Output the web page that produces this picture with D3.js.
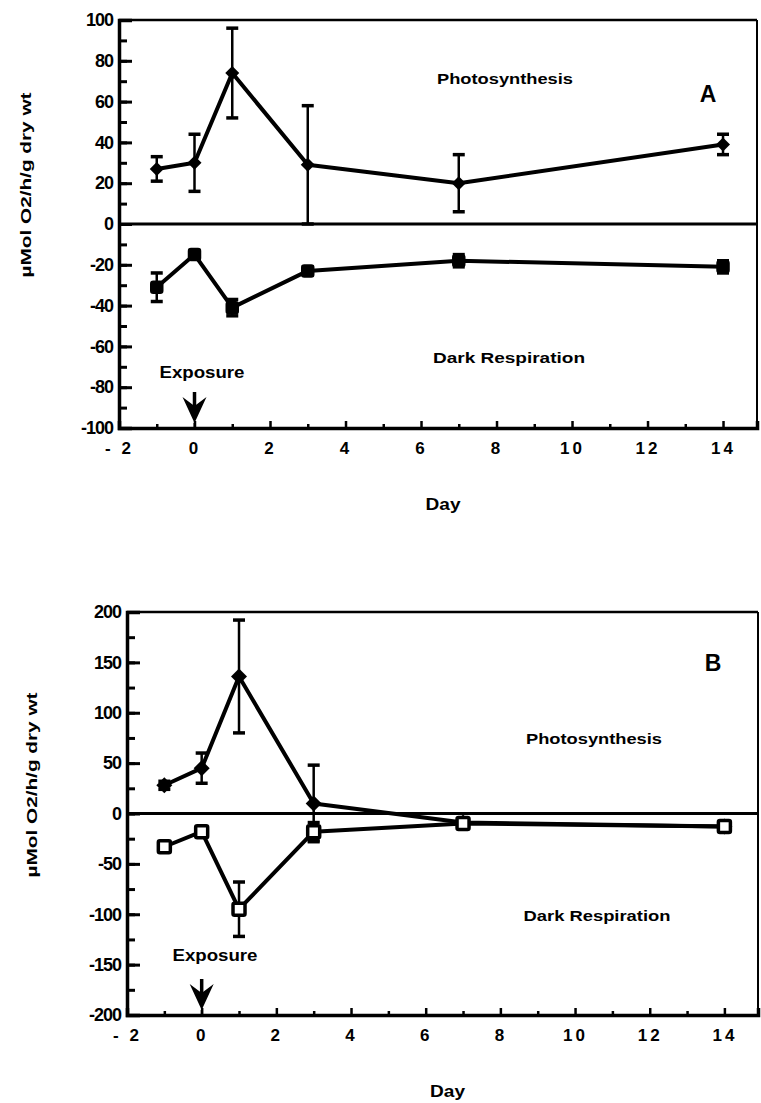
<!DOCTYPE html>
<html>
<head>
<meta charset="utf-8">
<script src="https://cdn.jsdelivr.net/npm/d3@7"></script>
<style>
  body { margin: 0; background: #fff; }
  svg text { font-family: "Liberation Sans", Arial, sans-serif; font-weight: bold; fill: #000; }
</style>
</head>
<body>
<div id="chart"></div>
<script>
// sampling days
const days = [-1, 0, 1, 3, 7, 14];

// panel A
const photoA = [27, 30, 74, 29, 20, 39];
const photoAErr = [6, 14, 22, 29, 14, 5];
const respA = [-31, -15, -41, -23, -18, -21];
const respAErr = [7, 2, 4, 2, 3, 3];
const yTicksA = [-100, -80, -60, -40, -20, 0, 20, 40, 60, 80, 100];

// panel B
const photoB = [28, 45, 136, 10, -9, -13];
const photoBErr = [4, 15, 56, 38, 2, 2];
const respB = [-33, -18, -95, -18, -10, -13];
const respBErr = [3, 3, 27, 9, 3, 2];
const yTicksB = [-200, -150, -100, -50, 0, 50, 100, 150, 200];

const xTicks = [-2, 0, 2, 4, 6, 8, 10, 12, 14];
const yLabel = "\u00b5Mol O2/h/g dry wt";

const width = 761, height = 1103;
const svg = d3.select("#chart").append("svg")
  .attr("width", width).attr("height", height);

function label(g, x, y, txt, size, len) {
  var t = g.append("text").attr("x", x).attr("y", y)
    .attr("text-anchor", "middle").attr("font-size", size).text(txt);
  if (len) t.attr("textLength", len).attr("lengthAdjust", "spacingAndGlyphs");
  return t;
}

function drawPanel(opts) {
  var x = d3.scaleLinear().domain([-2, 14.9]).range([opts.left, opts.right]);
  var y = d3.scaleLinear().domain(opts.yDomain).range([opts.bottom, opts.top]);
  var g = svg.append("g");

  // frame: top + right thinner
  g.append("line").attr("x1", opts.left).attr("x2", opts.right)
    .attr("y1", opts.top).attr("y2", opts.top)
    .attr("stroke", "#000").attr("stroke-width", 2.5);
  g.append("line").attr("x1", opts.right).attr("x2", opts.right)
    .attr("y1", opts.top).attr("y2", opts.bottom)
    .attr("stroke", "#000").attr("stroke-width", 2);

  // zero line
  g.append("line").attr("x1", opts.left).attr("x2", opts.right)
    .attr("y1", y(0)).attr("y2", y(0))
    .attr("stroke", "#000").attr("stroke-width", 3);

  // y axis, ticks pointing inward
  var minorY = d3.range(opts.yDomain[0], opts.yDomain[1] + 0.1, opts.yStep / 2);
  g.append("g").attr("transform", "translate(" + opts.left + ",0)")
    .call(d3.axisLeft(y).tickValues(minorY).tickSize(-8).tickFormat(""))
    .call(s => s.select(".domain").remove())
    .selectAll("line").attr("stroke-width", 3);
  var yAx = g.append("g").attr("transform", "translate(" + opts.left + ",0)")
    .call(d3.axisLeft(y).tickValues(opts.yTicks).tickSize(-13).tickPadding(6)
      .tickFormat(d => d < 0 ? "-" + Math.abs(d) : d));
  yAx.select(".domain").attr("stroke-width", 3.5);
  yAx.selectAll("line").attr("stroke-width", 3);
  yAx.selectAll("text").attr("font-size", 18).attr("letter-spacing", -1);

  // x axis, ticks pointing up
  g.append("g").attr("transform", "translate(0," + opts.bottom + ")")
    .call(d3.axisBottom(x).tickValues(d3.range(-1, 15, 2)).tickSize(-4).tickFormat(""))
    .call(s => s.select(".domain").remove())
    .selectAll("line").attr("stroke-width", 2.5);
  var xAx = g.append("g").attr("transform", "translate(0," + opts.bottom + ")")
    .call(d3.axisBottom(x).tickValues(xTicks).tickSize(-7).tickPadding(14)
      .tickFormat(d => d < 0 ? "- " + Math.abs(d) : d));
  xAx.select(".domain").attr("stroke-width", 3.5);
  xAx.selectAll("line").attr("stroke-width", 2.5);
  xAx.selectAll("text").attr("font-size", 17).attr("letter-spacing", 3);

  // axis titles
  label(g, (opts.left + opts.right) / 2 + 5, opts.bottom + 82, "Day", 17, 35);
  g.append("text")
    .attr("transform", "translate(" + opts.yLabelX + "," + opts.yLabelY + ") rotate(-90)")
    .attr("text-anchor", "middle").attr("font-size", 15)
    .attr("textLength", 185).attr("lengthAdjust", "spacingAndGlyphs").text(yLabel);

  var line = d3.line().x(d => x(d[0])).y(d => y(d[1]));

  function series(vals, errs, marker) {
    var pts = days.map((d, i) => [d, vals[i], errs[i]]);
    g.append("path").datum(pts).attr("d", line)
      .attr("fill", "none").attr("stroke", "#000").attr("stroke-width", 4)
      .attr("stroke-linejoin", "round");
    var eb = g.append("g").selectAll("g").data(pts).join("g");
    eb.append("line").attr("x1", d => x(d[0])).attr("x2", d => x(d[0]))
      .attr("y1", d => y(d[1] + d[2])).attr("y2", d => y(d[1] - d[2]))
      .attr("stroke", "#000").attr("stroke-width", 2.5);
    [1, -1].forEach(sg => {
      eb.append("line").attr("x1", d => x(d[0]) - 6).attr("x2", d => x(d[0]) + 6)
        .attr("y1", d => y(d[1] + sg * d[2])).attr("y2", d => y(d[1] + sg * d[2]))
        .attr("stroke", "#000").attr("stroke-width", 3.5);
    });
    if (marker === "diamond") {
      eb.append("path")
        .attr("d", d => { var cx = x(d[0]), cy = y(d[1]), r = opts.markR + 2;
          return "M" + cx + "," + (cy - r) + "L" + (cx + r) + "," + cy + "L" + cx + "," + (cy + r) + "L" + (cx - r) + "," + cy + "Z"; })
        .attr("fill", "#000");
    } else {
      eb.append("rect")
        .attr("x", d => x(d[0]) - opts.markR).attr("y", d => y(d[1]) - opts.markR)
        .attr("width", opts.markR * 2).attr("height", opts.markR * 2)
        .attr("rx", 1.5)
        .attr("fill", opts.openSquare ? "#fff" : "#000")
        .attr("stroke", "#000").attr("stroke-width", 3.5);
    }
  }
  series(opts.photo, opts.photoErr, "diamond");
  series(opts.resp, opts.respErr, "square");

  // annotations
  label(g, opts.photoLabel[0], opts.photoLabel[1], "Photosynthesis", 15, 136);
  label(g, opts.respLabel[0], opts.respLabel[1], "Dark Respiration", 15, opts.respLen);
  label(g, opts.letter[0], opts.letter[1], opts.letterText, 23);
  label(g, opts.exposure[0], opts.exposure[1], "Exposure", 16, 85);

  // exposure arrow at day 0
  var ax = x(0), tip = opts.bottom - 5;
  g.append("line").attr("x1", ax).attr("x2", ax).attr("y1", tip).attr("y2", opts.bottom)
    .attr("stroke", "#000").attr("stroke-width", 2);
  g.append("path")
    .attr("d", "M" + ax + "," + tip + "L" + (ax - 12) + "," + (tip - 26) +
      "L" + ax + "," + (tip - 17) + "L" + (ax + 12) + "," + (tip - 26) + "Z")
    .attr("fill", "#000");
  g.append("line").attr("x1", ax).attr("x2", ax).attr("y1", tip - 31).attr("y2", tip - 10)
    .attr("stroke", "#000").attr("stroke-width", 3.5);
}

drawPanel({
  left: 119, right: 757, top: 20, bottom: 428,
  yDomain: [-100, 100], yTicks: yTicksA, yStep: 20,
  photo: photoA, photoErr: photoAErr, resp: respA, respErr: respAErr,
  markR: 5, openSquare: false,
  photoLabel: [505, 84], respLabel: [509, 363], respLen: 152,
  letter: [708, 102], letterText: "A",
  exposure: [202, 378], yLabelX: 31, yLabelY: 185
});

drawPanel({
  left: 127, right: 758, top: 612, bottom: 1015,
  yDomain: [-200, 200], yTicks: yTicksB, yStep: 50,
  photo: photoB, photoErr: photoBErr, resp: respB, respErr: respBErr,
  markR: 6, openSquare: true,
  photoLabel: [594, 744], respLabel: [597, 921], respLen: 147,
  letter: [713, 671], letterText: "B",
  exposure: [215, 961], yLabelX: 37, yLabelY: 785
});
</script>
</body>
</html>
